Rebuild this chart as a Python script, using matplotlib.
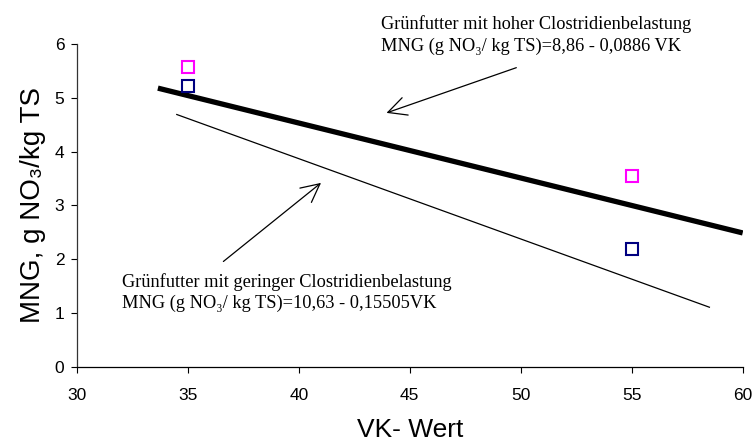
import numpy as np
import matplotlib.pyplot as plt

# Messpunkte (VK-Wert, MNG)
vk_punkte = [35, 55]
mng_hoch = [5.58, 3.55]      # magenta
mng_gering = [5.22, 2.2]     # dunkelblau

# Regressionslinien (so wie im Bild gezeichnet)
vk_hoch_linie = [33.65, 60]
mng_hoch_linie = [5.18, 2.49]
vk_gering_linie = [34.5, 58.5]
mng_gering_linie = [4.69, 1.11]

xticks = [30, 35, 40, 45, 50, 55, 60]
yticks = [0, 1, 2, 3, 4, 5, 6]

text_hoch = ['Grünfutter mit hoher Clostridienbelastung',
             'MNG (g NO\u2083/ kg TS)=8,86 - 0,0886 VK']
text_gering = ['Grünfutter mit geringer Clostridienbelastung',
               'MNG (g NO\u2083/ kg TS)=10,63 - 0,15505VK']

sans = ['Liberation Sans', 'DejaVu Sans']
serif = ['Liberation Serif', 'DejaVu Serif']
plt.rcParams['font.family'] = sans

fig = plt.figure(figsize=(7.54, 4.43), dpi=100)
ax = fig.add_axes([0.102, 0.1716, 0.883, 0.7291])

ax.plot(vk_hoch_linie, mng_hoch_linie, color='black', lw=3.8, solid_capstyle='butt')
ax.plot(vk_gering_linie, mng_gering_linie, color='black', lw=0.9)
ax.plot(vk_punkte, mng_hoch, 's', ms=8, mfc='none', mec='#FF00FF', mew=1.5)
ax.plot(vk_punkte, mng_gering, 's', ms=8, mfc='none', mec='#000080', mew=1.5)

# Pfeile
pfeil = dict(arrowstyle='->,head_length=0.6,head_width=0.3', lw=0.9, color='black',
             mutation_scale=22, shrinkA=0, shrinkB=0)
ax.annotate('', xy=(43.95, 4.72), xytext=(49.8, 5.56), arrowprops=pfeil,
            annotation_clip=False)
ax.annotate('', xy=(41.0, 3.42), xytext=(36.6, 1.96), arrowprops=pfeil)

ax.text(43.68, 6.28, text_hoch[0], family=serif, fontsize=13.2, va='baseline')
ax.text(43.68, 5.87, text_hoch[1], family=serif, fontsize=13.2, va='baseline')
ax.text(32.04, 1.49, text_gering[0], family=serif, fontsize=13.2, va='baseline')
ax.text(32.04, 1.09, text_gering[1], family=serif, fontsize=13.2, va='baseline')

ax.set_xlim(30, 60)
ax.set_ylim(0, 6)
ax.set_xticks(xticks)
ax.set_yticks(yticks)
ax.tick_params(axis='both', labelsize=12.5, length=4, width=0.8, direction='out')
ax.tick_params(axis='x', pad=11)
ax.tick_params(axis='y', pad=5)
for s in ['top', 'right']:
    ax.spines[s].set_visible(False)
ax.spines['left'].set_color('#333333')
ax.spines['left'].set_linewidth(0.9)
ax.spines['bottom'].set_linewidth(0.9)

ax.set_xlabel('VK- Wert', fontsize=19, labelpad=11)
ax.set_ylabel('MNG, g NO\u2083/kg TS', fontsize=20, labelpad=6)

fig.savefig('out.png', dpi=100)
